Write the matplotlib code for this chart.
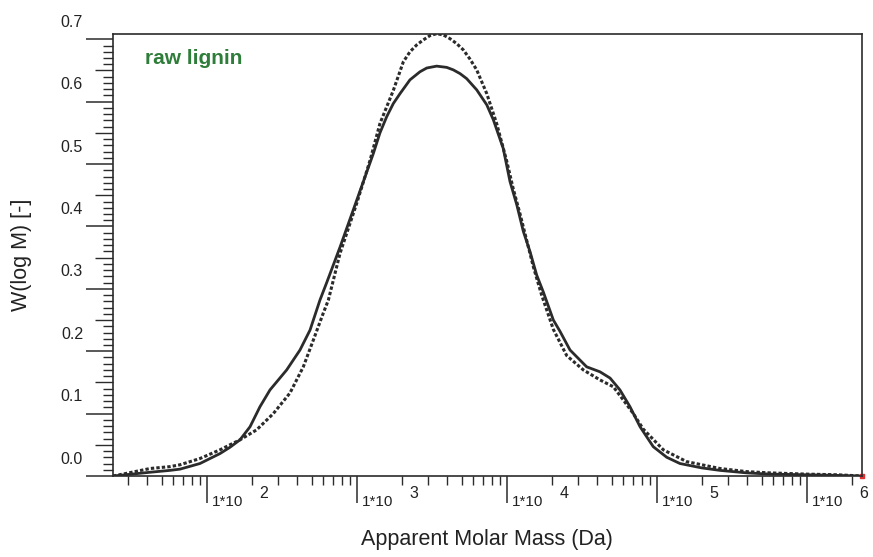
import numpy as np
import matplotlib.pyplot as plt
from matplotlib.ticker import FixedLocator, NullFormatter
from matplotlib.transforms import offset_copy

plt.rcParams['font.family'] = ['Liberation Sans', 'DejaVu Sans']

# log10 of apparent molar mass (Da) and W(log M)
log_m_solid = [1.376, 1.46, 1.622, 1.755, 1.822, 1.955, 2.089, 2.155, 2.222, 2.289,
               2.355, 2.422, 2.533, 2.622, 2.689, 2.755, 2.80, 2.889, 3.0, 3.111,
               3.155, 3.20, 3.244, 3.289, 3.355, 3.422, 3.467, 3.533, 3.60, 3.644,
               3.689, 3.733, 3.80, 3.867, 3.911, 3.977, 4.022, 4.067, 4.111, 4.155,
               4.20, 4.244, 4.311, 4.355, 4.422, 4.533, 4.622, 4.689, 4.755, 4.822,
               4.889, 4.977, 5.067, 5.155, 5.30, 5.422, 5.60, 5.755, 6.0, 6.2, 6.369]
w_solid = [0.0, 0.002, 0.006, 0.009, 0.011, 0.020, 0.036, 0.046, 0.058, 0.079,
           0.111, 0.138, 0.170, 0.202, 0.234, 0.282, 0.310, 0.367, 0.442, 0.517,
           0.550, 0.576, 0.597, 0.613, 0.635, 0.648, 0.654, 0.657, 0.655, 0.651,
           0.645, 0.637, 0.619, 0.595, 0.571, 0.525, 0.472, 0.435, 0.392, 0.360,
           0.322, 0.295, 0.250, 0.232, 0.202, 0.175, 0.167, 0.157, 0.138, 0.111,
           0.079, 0.047, 0.030, 0.020, 0.013, 0.009, 0.005, 0.003, 0.002, 0.001, 0.0]

log_m_dotted = [1.376, 1.46, 1.622, 1.755, 1.822, 1.955, 2.089, 2.155, 2.222, 2.333,
                2.444, 2.555, 2.644, 2.711, 2.777, 2.811, 2.889, 3.0, 3.089, 3.155,
                3.244, 3.311, 3.355, 3.40, 3.444, 3.489, 3.533, 3.578, 3.622, 3.667,
                3.711, 3.756, 3.80, 3.867, 3.933, 4.0, 4.044, 4.089, 4.133, 4.178,
                4.233, 4.311, 4.40, 4.511, 4.622, 4.711, 4.777, 4.844, 4.911, 5.044,
                5.20, 5.422, 5.60, 5.755, 6.0, 6.2, 6.369]
w_dotted = [0.0, 0.004, 0.012, 0.015, 0.018, 0.028, 0.042, 0.050, 0.058, 0.074,
            0.100, 0.133, 0.175, 0.218, 0.261, 0.282, 0.357, 0.437, 0.506, 0.565,
            0.618, 0.664, 0.680, 0.691, 0.699, 0.706, 0.709, 0.707, 0.701, 0.693,
            0.683, 0.668, 0.651, 0.613, 0.565, 0.505, 0.460, 0.420, 0.378, 0.335,
            0.290, 0.235, 0.193, 0.170, 0.154, 0.143, 0.122, 0.100, 0.075, 0.042,
            0.023, 0.012, 0.007, 0.005, 0.003, 0.002, 0.0]

decades = [2, 3, 4, 5, 6]
y_ticks = [0.0, 0.1, 0.2, 0.3, 0.4, 0.5, 0.6, 0.7]
y_labels = ['0.0', '0.1', '0.2', '0.3', '0.4', '0.5', '0.6', '0.7']
sample_name = 'raw lignin'

ink = '#2b2b2b'

fig = plt.figure(figsize=(8.73, 5.57), dpi=100)
ax = fig.add_axes([113 / 873, 1 - 476 / 557, (862 - 113) / 873, (476 - 34) / 557])

ax.plot(np.power(10.0, log_m_solid), w_solid, color=ink, lw=2.0,
        solid_joinstyle='round')
ax.plot(np.power(10.0, log_m_dotted), w_dotted, color=ink, lw=2.2,
        linestyle=(0, (1.1, 0.7)))

ax.set_xscale('log')
ax.set_xlim(10 ** 1.3753, 10 ** 6.3687)
ax.set_ylim(0, 0.7085)

for s in ax.spines.values():
    s.set_linewidth(1.2)
    s.set_color(ink)

# x axis: decade ticks long, 2..9 short
ax.xaxis.set_major_locator(FixedLocator([10.0 ** d for d in [1] + decades]))
minor_x = [k * 10.0 ** d for d in [1] + decades for k in range(2, 10)]
ax.xaxis.set_minor_locator(FixedLocator(minor_x))
ax.xaxis.set_major_formatter(NullFormatter())
ax.xaxis.set_minor_formatter(NullFormatter())
ax.tick_params(axis='x', which='major', length=19.4, width=1.1, color=ink, direction='out')
ax.tick_params(axis='x', which='minor', length=6.8, width=1.0, color=ink, direction='out')

# y axis: 0.1 long, 0.05 medium, 0.01 short
ax.yaxis.set_major_locator(FixedLocator(y_ticks))
minor_y = [i / 100 for i in range(1, 71) if i % 10 != 0]
ax.yaxis.set_minor_locator(FixedLocator(minor_y))
ax.yaxis.set_major_formatter(NullFormatter())
ax.tick_params(axis='y', which='major', length=19.4, width=1.1, color=ink, direction='out')
ax.tick_params(axis='y', which='minor', length=7.2, width=1.0, color=ink, direction='out')
for loc, tick in zip(minor_y, ax.yaxis.get_minor_ticks(len(minor_y))):
    if round(loc * 100) % 5 == 0:
        tick.tick1line.set_markersize(13)

# tick labels as text, placed like the original software does
ylab_tr = offset_copy(ax.get_yaxis_transform(), fig=fig, x=-30, y=17, units='dots')
for v, lab in zip(y_ticks, y_labels):
    ax.text(0, v, lab, transform=ylab_tr, ha='right', va='center',
            fontsize=11.5, color='#222222')

base_tr = offset_copy(ax.get_xaxis_transform(), fig=fig, x=5, y=-26, units='dots')
exp_tr = offset_copy(ax.get_xaxis_transform(), fig=fig, x=57, y=-17, units='dots')
for d in decades:
    ax.text(10.0 ** d, 0, '1*10', transform=base_tr, ha='left', va='center',
            fontsize=11, color='#222222', clip_on=False)
    ax.text(10.0 ** d, 0, str(d), transform=exp_tr, ha='center', va='center',
            fontsize=11.5, color='#222222', clip_on=False)

ax.plot([1], [0], 's', color='#e03030', ms=2.5, transform=ax.transAxes, clip_on=False)

fig.text(22 / 873, 1 - 255 / 557, 'W(log M) [-]', rotation=90, ha='center',
         va='center', fontsize=15.5, color='#222222')
fig.text(487 / 873, 1 - 540 / 557, 'Apparent Molar Mass (Da)', ha='center',
         va='center', fontsize=15.5, color='#222222')
fig.text(145 / 873, 1 - 58 / 557, sample_name, ha='left', va='center',
         fontsize=15, fontweight='bold', color='#2f7d3a')

fig.savefig('out.png', dpi=100)
